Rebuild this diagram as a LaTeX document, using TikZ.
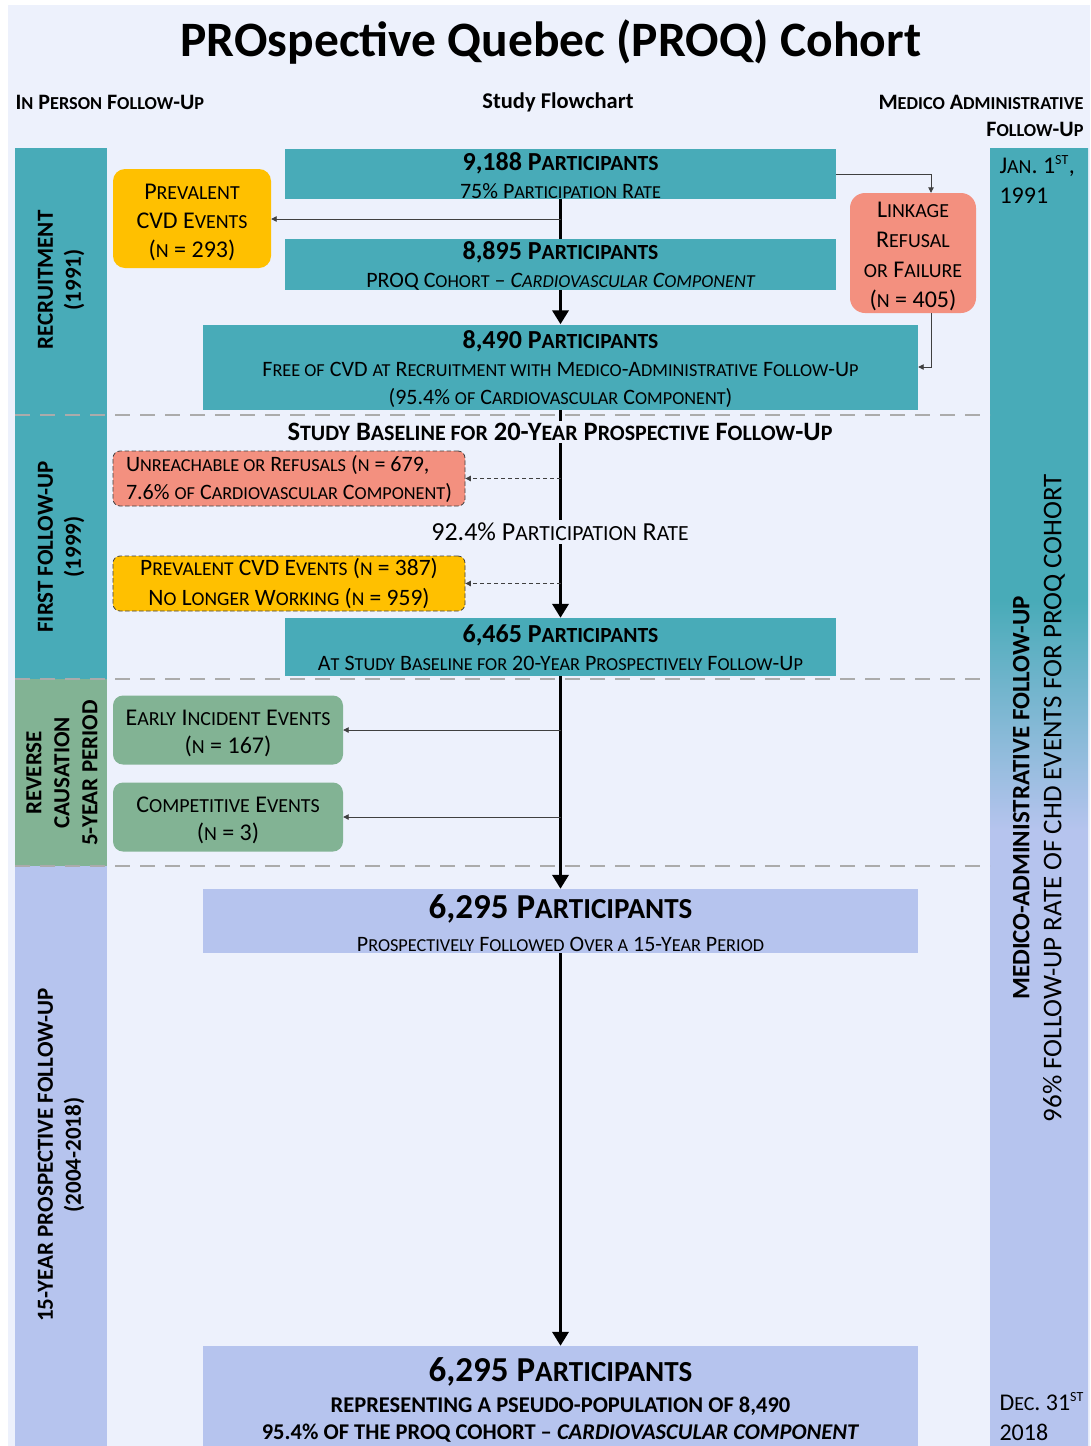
\documentclass[tikz,border=0pt]{standalone}
\usepackage{fontspec}
\setmainfont{Carlito}
\newfontfamily\scfam[Scale=0.83]{Carlito}
\newcommand\sC[1]{{\scfam #1}}
\newcommand\up[1]{\rule{0pt}{#1}}
\usetikzlibrary{arrows.meta,calc}
\definecolor{bgc}{HTML}{EDF1FC}
\definecolor{tealc}{HTML}{48ABB8}
\definecolor{orangec}{HTML}{FFC000}
\definecolor{salmonc}{HTML}{F3907F}
\definecolor{greenc}{HTML}{82B394}
\definecolor{lavc}{HTML}{B6C4EE}
\definecolor{sepc}{HTML}{ABABAB}
\definecolor{thinc}{HTML}{404040}
\pgfdeclarelayer{back}
\pgfdeclarelayer{bg}
\pgfsetlayers{back,bg,main}
\pgfdeclareverticalshading{colgrad}{100bp}{color(0bp)=(lavc); color(48.7bp)=(lavc); color(57.6bp)=(tealc); color(100bp)=(tealc)}
\tikzset{
  box/.style={rectangle, inner sep=0pt, align=center, text=black},
  tealbox/.style={box, fill=tealc},
  lavbox/.style={box, fill=lavc},
  side/.style={box, rounded corners=12pt},
  dbox/.style={box, rounded corners=7pt, draw=thinc, dash pattern=on 4.5pt off 2.5pt, line width=0.8pt},
  mainline/.style={line width=3.8pt, -{Triangle[width=16pt,length=14pt]}},
  thinarr/.style={line width=0.9pt, draw=thinc, -{Triangle[width=5.5pt,length=5.5pt]}},
  dasharr/.style={thinarr, dash pattern=on 4.5pt off 2.5pt},
  sep/.style={line width=2.6pt, draw=sepc, dash pattern=on 15pt off 10pt},
  band/.style={rotate=90, align=center, font=\fontsize{23}{28}\selectfont\bfseries},
  tx/.style={font=\fontsize{22}{28}\selectfont},
  sidetx/.style={font=\fontsize{24}{29}\selectfont},
}
\begin{document}
\begin{tikzpicture}[x=1pt,y=-1pt]
\useasboundingbox (0,0) rectangle (1090,1446);
\begin{pgfonlayer}{back}
\fill[white] (0,0) rectangle (1090,1446);
\fill[bgc] (8,5) rectangle (1090,1446);
% left bands
\fill[tealc] (15,148) rectangle (107,416);
\fill[tealc] (15,416) rectangle (107,679);
\fill[greenc] (15,679) rectangle (107,866);
\fill[lavc] (15,866) rectangle (107,1446);
% right column
\shade[shading=colgrad] (990,148) rectangle (1088,1446);
\end{pgfonlayer}
% separators
\draw[sep] (15,415) -- (990,415);
\draw[sep] (15,679) -- (990,679);
\draw[sep] (15,866) -- (990,866);

% title and headers
\node (title) at (551,42) {\fontsize{49.5}{52}\selectfont\bfseries PROspective Quebec (PROQ) Cohort};
\node[anchor=west, font=\fontsize{22}{24}\selectfont\bfseries] (hleft) at (12,102) {I\sC{N} P\sC{ERSON} F\sC{OLLOW}-U\sC{P}};
\node[font=\fontsize{22.5}{24}\selectfont\bfseries] (hmid) at (558,102) {Study Flowchart};
\node[anchor=east, align=right, font=\fontsize{22}{27}\selectfont\bfseries] (hright) at (1087,116) {M\sC{EDICO} A\sC{DMINISTRATIVE}\\F\sC{OLLOW}-U\sC{P}};

% left band labels
\node[band] (l1) at (61,280) {RECRUITMENT\\(1991)};
\node[band] (l2) at (61,547) {FIRST FOLLOW-UP\\(1999)};
\node[band] (l3) at (62,773) {REVERSE\\CAUSATION\\5-YEAR PERIOD};
\node[band] (l4) at (61,1155) {15-YEAR PROSPECTIVE FOLLOW-UP\\(2004-2018)};

% right column labels
\node[anchor=north west, align=left, font=\fontsize{24}{30}\selectfont] (jan) at (996,152) {J\sC{AN}. 1\textsuperscript{\sC{ST}},\\1991};
\node[anchor=south west, align=left, font=\fontsize{24}{30}\selectfont] (dec) at (996,1444) {D\sC{EC}. 31\textsuperscript{\sC{ST}}\\2018};
\node[rotate=90, align=center, font=\fontsize{27}{32}\selectfont] (rlab) at (1039,798) {{\fontsize{25}{32}\selectfont\bfseries MEDICO-ADMINISTRATIVE FOLLOW-UP}\\96\% FOLLOW-UP RATE OF CHD EVENTS FOR PROQ COHORT};

% flow boxes
\node[tealbox, minimum width=551pt, minimum height=50pt, tx] (b1) at (560.5,174)
  {{\fontsize{26}{28}\selectfont\bfseries\up{20.7pt}9,188 P\sC{ARTICIPANTS}}\\75\% P\sC{ARTICIPATION} R\sC{ATE}};
\node[tealbox, minimum width=551pt, minimum height=51pt, tx] (b2) at (560.5,264.5)
  {{\fontsize{26}{28}\selectfont\bfseries\up{20.7pt}8,895 P\sC{ARTICIPANTS}}\\PROQ C\sC{OHORT} -- {\itshape C\sC{ARDIOVASCULAR} C\sC{OMPONENT}}};
\node[tealbox, minimum width=715pt, minimum height=85pt, tx] (b3) at (560.5,367)
  {{\fontsize{26}{28}\selectfont\bfseries\up{22.7pt}8,490 P\sC{ARTICIPANTS}}\\F\sC{REE OF} CVD \sC{AT} R\sC{ECRUITMENT WITH} M\sC{EDICO}-A\sC{DMINISTRATIVE} F\sC{OLLOW}-U\sC{P}\\(95.4\% \sC{OF} C\sC{ARDIOVASCULAR} C\sC{OMPONENT})};
\node[side, fill=orangec, minimum width=158pt, minimum height=99pt, sidetx] (o1) at (192,218.5)
  {\up{23.5pt}P\sC{REVALENT}\\CVD E\sC{VENTS}\\(\sC{N} = 293)};
\node[side, fill=salmonc, minimum width=126pt, minimum height=120pt, rounded corners=15pt, font=\fontsize{24}{30}\selectfont] (lk) at (913,253)
  {\up{23pt}L\sC{INKAGE}\\R\sC{EFUSAL}\\\sC{OR} F\sC{AILURE}\\(\sC{N} = 405)};

\node[fill=bgc, inner sep=2pt, font=\fontsize{26.5}{28}\selectfont\bfseries] (base) at (560,432)
  {S\sC{TUDY} B\sC{ASELINE FOR} 20-Y\sC{EAR} P\sC{ROSPECTIVE} F\sC{OLLOW}-U\sC{P}};
\node[dbox, fill=salmonc, minimum width=352pt, minimum height=55pt, align=left, font=\fontsize{22}{28}\selectfont] (ur) at (289,478.5)
  {\up{18pt}U\sC{NREACHABLE OR} R\sC{EFUSALS} (\sC{N} = 679,\\7.6\% \sC{OF} C\sC{ARDIOVASCULAR} C\sC{OMPONENT})};
\node[fill=bgc, inner sep=3pt, font=\fontsize{26}{28}\selectfont] (rate) at (560,532)
  {92.4\% P\sC{ARTICIPATION} R\sC{ATE}};
\node[dbox, fill=orangec, minimum width=352pt, minimum height=55pt, font=\fontsize{23.5}{30}\selectfont] (o2) at (289,583.5)
  {\up{18pt}P\sC{REVALENT} CVD E\sC{VENTS} (\sC{N} = 387)\\N\sC{O} L\sC{ONGER} W\sC{ORKING} (\sC{N} = 959)};
\node[tealbox, minimum width=551pt, minimum height=58pt, tx] (b4) at (560.5,647)
  {{\fontsize{26}{28}\selectfont\bfseries\up{20pt}6,465 P\sC{ARTICIPANTS}}\\A\sC{T} S\sC{TUDY} B\sC{ASELINE FOR} 20-Y\sC{EAR} P\sC{ROSPECTIVELY} F\sC{OLLOW}-U\sC{P}};

\node[side, fill=greenc, rounded corners=10pt, minimum width=230pt, minimum height=69pt, font=\fontsize{24}{28}\selectfont] (g1) at (228,730)
  {\up{21.5pt}E\sC{ARLY} I\sC{NCIDENT} E\sC{VENTS}\\(\sC{N} = 167)};
\node[side, fill=greenc, rounded corners=10pt, minimum width=230pt, minimum height=69pt, font=\fontsize{24}{28}\selectfont] (g2) at (228,817)
  {\up{21.5pt}C\sC{OMPETITIVE} E\sC{VENTS}\\(\sC{N} = 3)};

\node[lavbox, minimum width=715pt, minimum height=64pt, font=\fontsize{22}{33}\selectfont] (b5) at (560.5,921)
  {{\fontsize{35}{33}\selectfont\bfseries\up{28.5pt}6,295 P\sC{ARTICIPANTS}}\\P\sC{ROSPECTIVELY} F\sC{OLLOWED} O\sC{VER A} 15-Y\sC{EAR} P\sC{ERIOD}};
\node[lavbox, minimum width=715pt, minimum height=100pt, font=\fontsize{22.5}{27}\selectfont\bfseries] (b6) at (560.5,1396)
  {{\fontsize{35}{32}\selectfont\up{32pt}6,295 P\sC{ARTICIPANTS}}\\[4pt]REPRESENTING A PSEUDO-POPULATION OF 8,490\\95.4\% OF THE PROQ COHORT -- \textit{CARDIOVASCULAR COMPONENT}};

% main flow line
\begin{pgfonlayer}{bg}
\draw[mainline] (b1.south) -- (b3.north);
\draw[mainline] (b3.south) -- (b4.north);
\draw[mainline] (b4.south) -- (b5.north);
\draw[mainline] (b5.south) -- (b6.north);
\end{pgfonlayer}
% side connectors
\coordinate (j1) at (561,219);
\coordinate (j2) at (561,478.5);
\coordinate (j3) at (561,583.5);
\coordinate (j4) at (561,730);
\coordinate (j5) at (561,817);
\draw[thinarr] (j1) -- (o1.east |- j1);
\draw[dasharr] (j2) -- (ur.east);
\draw[dasharr] (j3) -- (o2.east);
\draw[thinarr] (j4) -- (g1.east);
\draw[thinarr] (j5) -- (g2.east);
\draw[thinarr] (b1.east) -| ([xshift=18pt]lk.north);
\draw[thinarr] ([xshift=18pt]lk.south) |- (b3.east);
\end{tikzpicture}
\end{document}
